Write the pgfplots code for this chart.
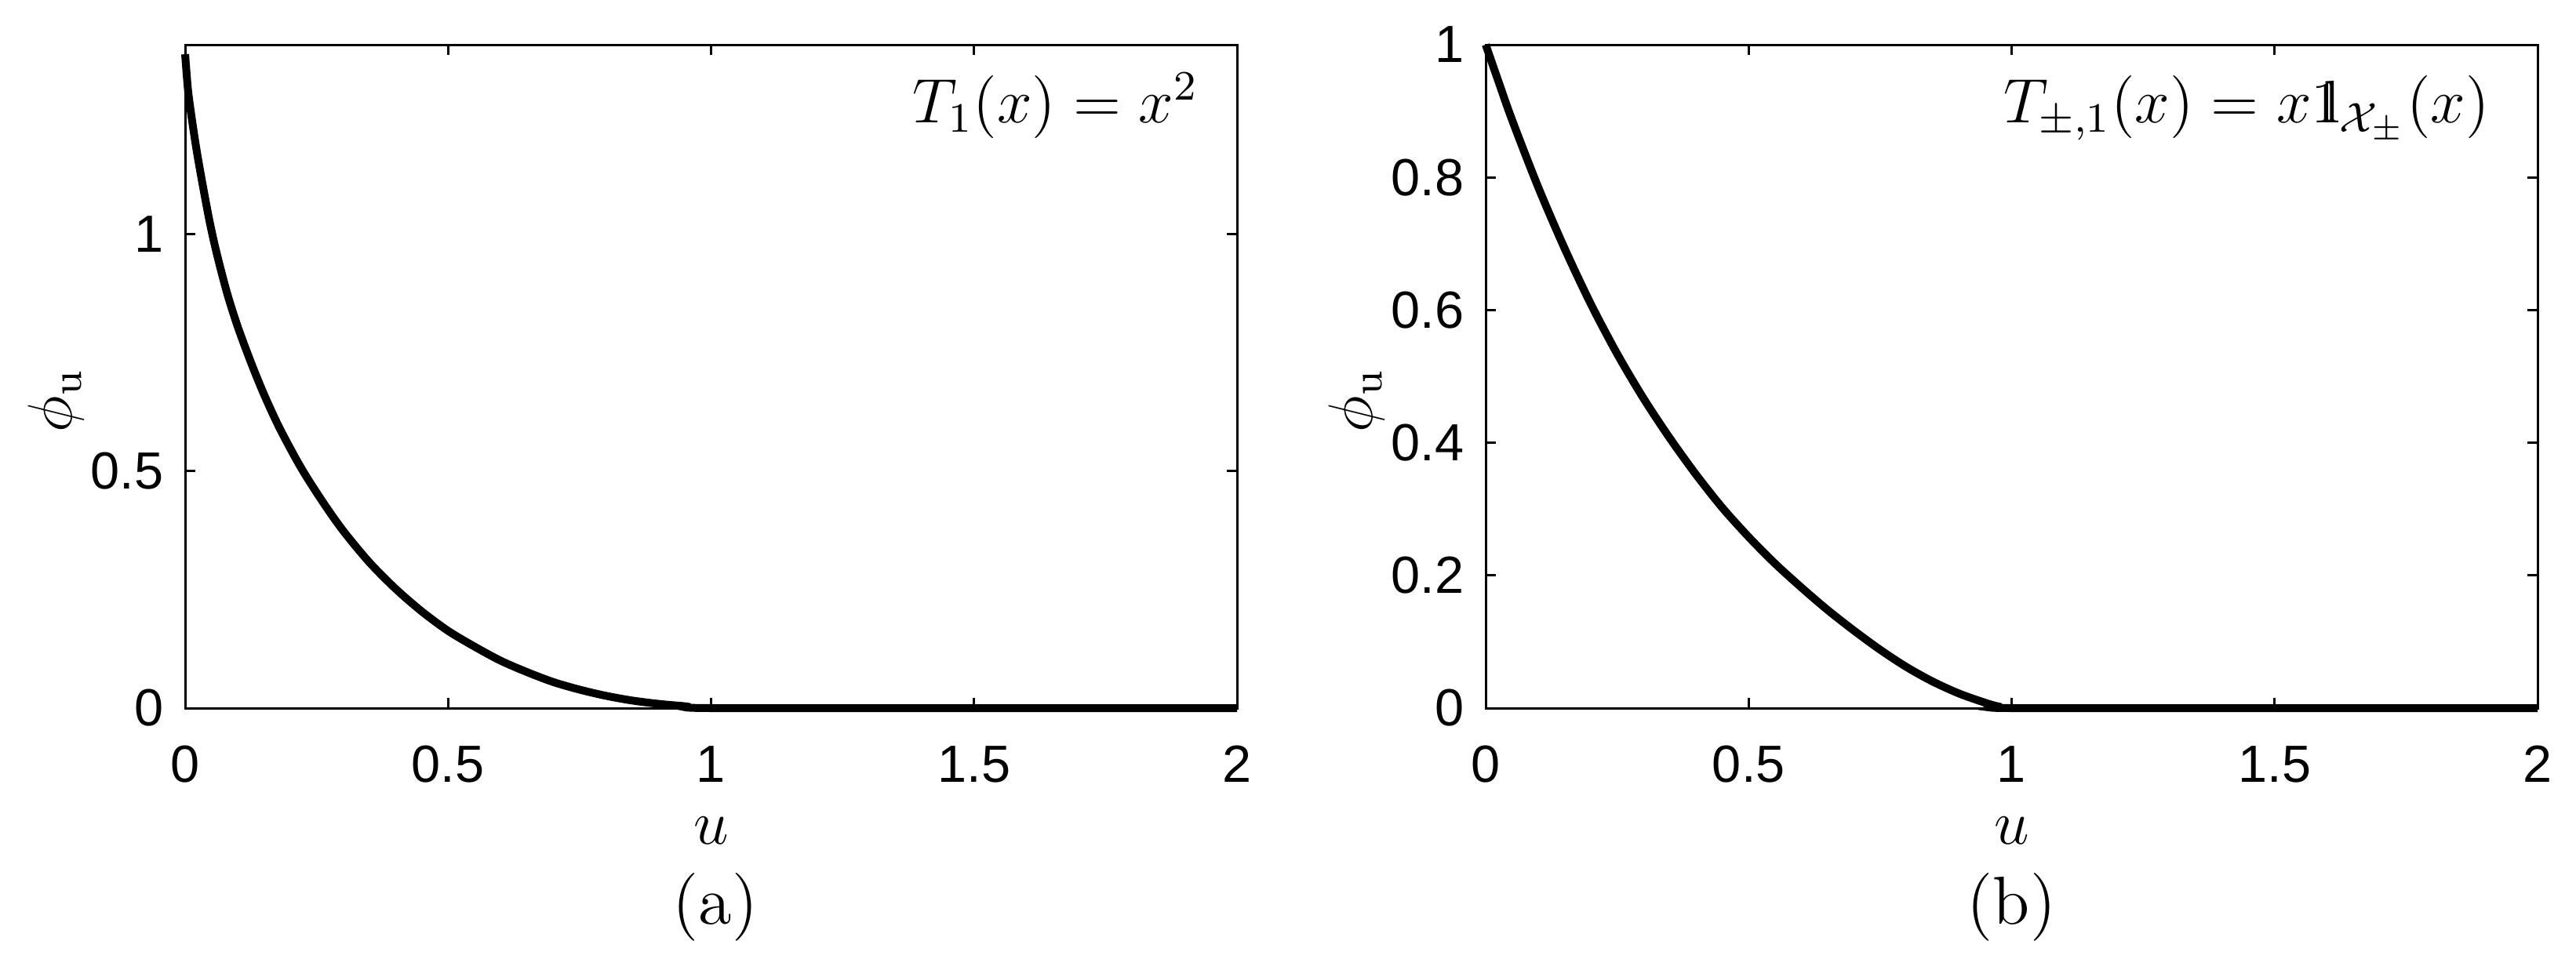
\documentclass[border=0pt]{standalone}
\usepackage{fontspec}
\usepackage{pgfplots}
\pgfplotsset{compat=1.18}
\newfontfamily\tickfont{Liberation Sans}
% double-struck one built from 1 and l
\newcommand{\ind}{\mathord{\mathrm{1}\mkern-5mu\mathrm{l}}}

\pgfplotsset{
  panel/.style={
    scale only axis,
    width=201.15pt, height=126.9pt,
    xmin=0, xmax=2,
    xtick={0,0.5,1,1.5,2},
    tick align=inside,
    major tick length=2pt,
    axis line style={line width=0.45pt},
    every tick/.style={line width=0.45pt, black},
    ticklabel style={font=\tickfont\fontsize{10}{12}\selectfont},
    /pgf/number format/assume math mode=true,
    xticklabel style={yshift=-3.7pt},
    yticklabel style={xshift=-0.6pt},
    xlabel={$u$},
    xlabel style={font=\fontsize{11.5}{13}\selectfont, at={(axis description cs:0.5,-0.205)}, anchor=base},
    ylabel={$\phi_{\mathrm{u}}$},
    ylabel style={font=\fontsize{11.5}{13}\selectfont, at={(axis description cs:-0.123,0.464)}, anchor=center},
    clip=false,
  },
  curve/.style={black, line width=1.5pt, smooth},
}

\begin{document}
\begin{tikzpicture}
\path[use as bounding box] (0,0) rectangle (492.6pt,185.4pt);

\begin{axis}[panel, at={(35.4pt,49.95pt)}, anchor=south west,
  ymin=0, ymax=1.4, ytick={0,0.5,1}]
\addplot[curve] coordinates {
(0,1.38) (0.005,1.31) (0.01,1.265) (0.02,1.19) (0.03,1.125) (0.046,1.03)
(0.06,0.96) (0.08,0.875) (0.1,0.805) (0.125,0.73) (0.15,0.662) (0.18,0.59)
(0.22,0.508) (0.26,0.438) (0.3,0.375) (0.35,0.308) (0.4,0.252) (0.45,0.204)
(0.5,0.163) (0.55,0.130) (0.6,0.100) (0.65,0.076) (0.7,0.055) (0.75,0.039)
(0.8,0.026) (0.85,0.016) (0.9,0.009) (0.95,0.004) (1,0) (1.5,0) (2,0)
};
\node[anchor=base east, font=\fontsize{11.5}{13}\selectfont] at (rel axis cs:0.981,0.882) {$T_1(x)=x^2$};
\node[font=\fontsize{13}{15}\selectfont] at (rel axis cs:0.504,-0.300) {(a)};
\end{axis}

\begin{axis}[panel, at={(284.1pt,49.95pt)}, anchor=south west,
  ymin=0, ymax=1, ytick={0,0.2,0.4,0.6,0.8,1}]
\addplot[curve] coordinates {
(0,1.0) (0.025,0.943) (0.05,0.887) (0.1,0.785) (0.15,0.693) (0.2,0.609)
(0.25,0.534) (0.3,0.467) (0.35,0.407) (0.4,0.352) (0.45,0.302) (0.5,0.258)
(0.55,0.218) (0.6,0.182) (0.65,0.148) (0.7,0.117) (0.75,0.088) (0.8,0.062)
(0.85,0.040) (0.9,0.022) (0.95,0.008) (0.975,0.0025) (1,0) (1.5,0) (2,0)
};
\node[anchor=base east, font=\fontsize{11.5}{13}\selectfont] at (rel axis cs:0.972,0.882) {$T_{\pm,1}(x)=x\ind_{\mathcal{X}_\pm}(x)$};
\node[font=\fontsize{13}{15}\selectfont] at (rel axis cs:0.5,-0.300) {(b)};
\end{axis}
\end{tikzpicture}
\end{document}
